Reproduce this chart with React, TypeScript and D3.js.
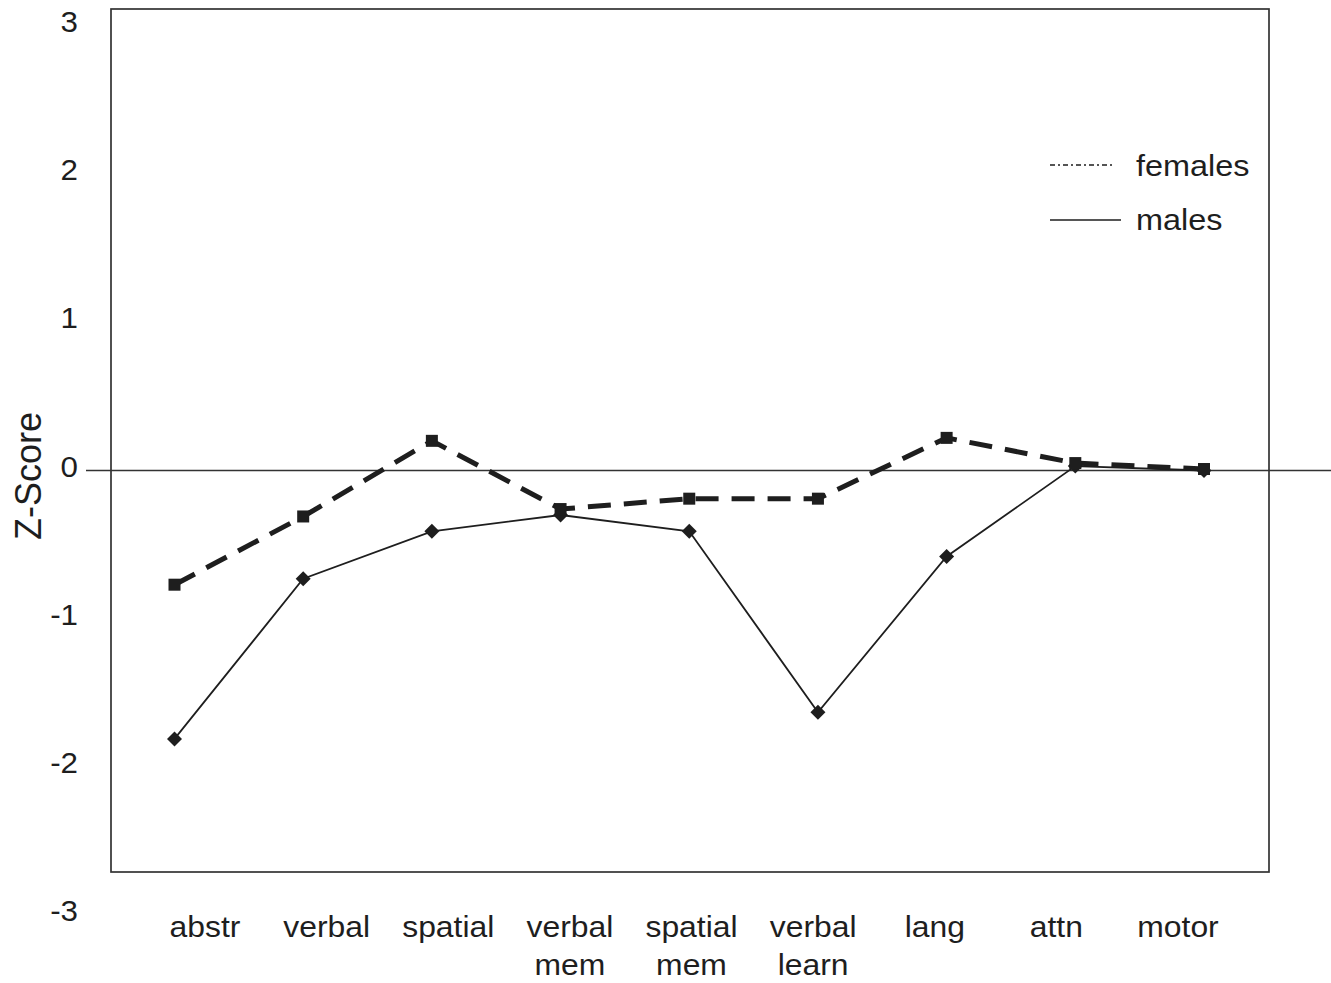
import React from "react";
import * as d3 from "d3";

const categories: string[][] = [
  ["abstr"],
  ["verbal"],
  ["spatial"],
  ["verbal", "mem"],
  ["spatial", "mem"],
  ["verbal", "learn"],
  ["lang"],
  ["attn"],
  ["motor"],
];
const females: number[] = [-0.77, -0.31, 0.2, -0.26, -0.19, -0.19, 0.22, 0.05, 0.01];
const males: number[] = [-1.81, -0.73, -0.41, -0.3, -0.41, -1.63, -0.58, 0.03, 0.0];
const yTicks: number[] = [3, 2, 1, 0, -1, -2, -3];
const legendLabels = ["females", "males"];

const W = 1331;
const H = 983;
const box = { left: 111, right: 1269, top: 9, bottom: 872 };
const ink = "#1e1e1e";
const font = "'Liberation Sans', Arial, Helvetica, sans-serif";
const SX = 1.08;

export default function App() {
  const keys = categories.map((c) => c.join(" "));
  const x = d3.scalePoint<string>().domain(keys).range([174.5, 1204]);
  const xLabel = d3.scalePoint<string>().domain(keys).range([205, 1178]);
  const y = d3.scaleLinear().domain([-3, 3]).range([470.5 + 3 * 148.3, 470.5 - 3 * 148.3]);

  const line = d3
    .line<number>()
    .x((_, i) => x(keys[i]) as number)
    .y((d) => y(d));

  return (
    <svg
      width={W}
      height={H}
      style={{ position: "absolute", left: 0, top: 0, background: "#fff" }}
      fontFamily={font}
    >
      <rect x={0} y={0} width={W} height={H} fill="#fff" />
      {/* plot box */}
      <rect
        x={box.left}
        y={box.top}
        width={box.right - box.left}
        height={box.bottom - box.top}
        fill="none"
        stroke="#333"
        strokeWidth={1.7}
      />
      {/* zero line */}
      <line x1={86} x2={W} y1={y(0)} y2={y(0)} stroke="#333" strokeWidth={1.6} />

      {/* y tick labels */}
      {yTicks.map((t) => (
        <text
          key={t}
          transform={`translate(78, ${y(t) - 4}) scale(${SX},1)`}
          textAnchor="end"
          dominantBaseline="central"
          fontSize={29}
          fill={ink}
        >
          {t}
        </text>
      ))}
      {/* y title */}
      <text
        transform={`translate(41, 476) rotate(-90)`}
        textAnchor="middle"
        fontSize={36}
        fill={ink}
      >
        Z-Score
      </text>

      {/* x labels */}
      {categories.map((c, i) => (
        <text
          key={keys[i]}
          transform={`translate(${xLabel(keys[i])}, 0) scale(${SX},1)`}
          textAnchor="middle"
          fontSize={29.5}
          fill={ink}
        >
          {c.map((s, j) => (
            <tspan key={j} x={0} y={937 + j * 38.5}>
              {s}
            </tspan>
          ))}
        </text>
      ))}

      {/* males */}
      <path d={line(males) || ""} fill="none" stroke={ink} strokeWidth={1.8} />
      {males.map((v, i) => {
        const cx = x(keys[i]) as number;
        const cy = y(v);
        const r = 7.5;
        return (
          <path
            key={i}
            d={`M${cx},${cy - r}L${cx + r},${cy}L${cx},${cy + r}L${cx - r},${cy}Z`}
            fill={ink}
          />
        );
      })}

      {/* females */}
      <path
        d={line(females) || ""}
        fill="none"
        stroke={ink}
        strokeWidth={5}
        strokeDasharray="23,13"
      />
      {females.map((v, i) => {
        const cx = x(keys[i]) as number;
        const cy = y(v);
        const s = 12;
        return <rect key={i} x={cx - s / 2} y={cy - s / 2} width={s} height={s} fill={ink} />;
      })}

      {/* legend */}
      <line x1={1050} x2={1114} y1={165} y2={165} stroke={ink} strokeWidth={1.5} strokeDasharray="5,3,2,3" />
      <line x1={1050} x2={1121} y1={220} y2={220} stroke={ink} strokeWidth={1.5} />
      <text transform={`translate(1136, 176) scale(${SX},1)`} fontSize={30} fill={ink}>
        {legendLabels[0]}
      </text>
      <text transform={`translate(1136, 230) scale(${SX},1)`} fontSize={30} fill={ink}>
        {legendLabels[1]}
      </text>
    </svg>
  );
}
